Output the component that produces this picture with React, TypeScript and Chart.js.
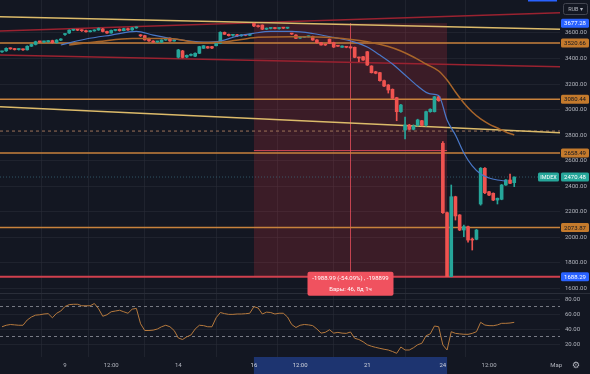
import React, { useEffect, useRef } from 'react';
import { Chart, registerables } from 'chart.js';

Chart.register(...registerables);

// ---------- DATA ----------
const opens = [
  3452, 3460, 3480, 3476, 3470, 3474, 3468, 3496, 3510, 3532,
  3530, 3532, 3540, 3524, 3544, 3588, 3600, 3622, 3624, 3622,
  3618, 3610, 3616, 3624, 3632, 3612, 3600, 3620, 3630, 3618,
  3634, 3624, 3640, 3580, 3579, 3556, 3537, 3530, 3528, 3545,
  3558, 3537, 3410, 3459, 3412, 3425, 3418, 3441, 3480, 3493,
  3493, 3500, 3519, 3605, 3590, 3582, 3584, 3578, 3584, 3582,
  3675, 3655, 3662, 3630, 3636, 3640, 3635, 3640, 3638, 3594,
  3584, 3560, 3566, 3570, 3574, 3545, 3524, 3508, 3551, 3524,
  3498, 3488, 3490, 3488, 3488, 3409, 3414, 3453, 3341, 3296,
  3289, 3226, 3192, 3158, 3093, 2983, 2839, 2878, 2845, 2878,
  2912, 2878, 2983, 2983, 3100, 2735, 2191, 1690, 2316, 2173,
  2055, 2081, 1980, 1982, 2259, 2539, 2355, 2343, 2290, 2296,
  2408, 2447, 2426,
];
const highs = [
  3458, 3484, 3484, 3480, 3478, 3476, 3500, 3514, 3536, 3536,
  3536, 3542, 3544, 3548, 3556, 3596, 3626, 3628, 3628, 3626,
  3622, 3620, 3626, 3640, 3636, 3616, 3624, 3626, 3632, 3638,
  3638, 3644, 3648, 3588, 3582, 3560, 3540, 3536, 3548, 3556,
  3562, 3548, 3472, 3464, 3428, 3436, 3445, 3496, 3502, 3496,
  3496, 3522, 3610, 3608, 3592, 3588, 3590, 3588, 3590, 3592,
  3677.28, 3662, 3664, 3640, 3642, 3644, 3642, 3645, 3645, 3598,
  3588, 3570, 3574, 3578, 3576, 3548, 3526, 3512, 3554, 3528,
  3502, 3500, 3494, 3492, 3490, 3412, 3418, 3456, 3344, 3300,
  3292, 3230, 3196, 3162, 3096, 3040, 2941, 2884, 2880, 2924,
  2916, 2988, 3006, 3104, 3104, 2748, 2195, 2408, 2320, 2176,
  2094, 2085, 1992, 2060, 2545, 2545, 2358, 2346, 2306, 2412,
  2450, 2494, 2472,
];
const lows = [
  3448, 3456, 3472, 3466, 3466, 3464, 3466, 3494, 3506, 3526,
  3524, 3528, 3520, 3520, 3540, 3582, 3596, 3618, 3618, 3612,
  3606, 3608, 3614, 3620, 3608, 3596, 3598, 3616, 3614, 3616,
  3620, 3620, 3636, 3572, 3544, 3534, 3526, 3526, 3524, 3542,
  3534, 3536, 3404, 3404, 3406, 3420, 3414, 3438, 3478, 3480,
  3478, 3498, 3516, 3588, 3576, 3576, 3572, 3574, 3578, 3580,
  3650, 3645, 3626, 3626, 3632, 3632, 3630, 3634, 3634, 3588,
  3555, 3558, 3564, 3568, 3542, 3520, 3504, 3502, 3516, 3486,
  3494, 3486, 3484, 3478, 3406, 3375, 3384, 3345, 3286, 3280,
  3222, 3180, 3129, 3084, 2912, 2978, 2769, 2840, 2840, 2870,
  2872, 2870, 2978, 2980, 3064, 2185, 1688.29, 1688.29, 2133, 2050,
  2002, 1960, 1898, 1978, 2250, 2340, 2325, 2285, 2259, 2292,
  2404, 2418, 2395,
];
const closes = [
  3454, 3480, 3476, 3470, 3474, 3468, 3496, 3510, 3532, 3530,
  3532, 3540, 3524, 3544, 3553, 3590, 3622, 3624, 3622, 3618,
  3610, 3616, 3624, 3636, 3612, 3600, 3620, 3622, 3618, 3634,
  3624, 3640, 3642, 3578, 3546, 3538, 3528, 3532, 3545, 3553,
  3537, 3545, 3467, 3408, 3425, 3432, 3441, 3493, 3500, 3482,
  3482, 3519, 3605, 3590, 3579, 3584, 3578, 3584, 3582, 3588,
  3655, 3650, 3630, 3636, 3638, 3635, 3640, 3638, 3641, 3592,
  3558, 3566, 3570, 3574, 3545, 3524, 3506, 3506, 3519, 3490,
  3496, 3498, 3488, 3484, 3409, 3404, 3388, 3349, 3289, 3284,
  3226, 3184, 3153, 3088, 2983, 3035, 2878, 2845, 2870, 2918,
  2878, 2983, 3002, 3100, 3069, 2191, 1690, 2316, 2165, 2055,
  2081, 1976, 1976, 2055, 2539, 2347, 2329, 2290, 2304, 2408,
  2447, 2421, 2470.48,
];
const rsiValues = [
  43, 45, 46, 45.5, 45, 45, 52, 56, 58.5, 59,
  60, 60.5, 55, 61, 64, 70, 72.5, 73, 73, 71,
  71, 71, 74, 67, 57, 59, 63, 64, 65, 63,
  61, 66.5, 67.5, 47, 38, 38, 38.5, 40, 43, 45,
  43, 38, 28, 26, 29.5, 32, 40, 45, 44.5, 43,
  43, 55, 62, 60.5, 59.5, 59.5, 60, 60, 60.4, 61,
  69.8, 68, 60, 62.5, 62, 60, 61, 61, 56, 46,
  42, 45, 46, 45.5, 44.5, 40, 34.5, 35.6, 39, 34.5,
  35.5, 34.5, 34.2, 36, 27.6, 26, 23, 19, 17, 15.5,
  14.2, 13, 12, 10, 7.6, 16, 12, 12, 15, 19,
  21, 31, 33.5, 44, 43, 18.7, 12, 36.4, 34.2, 33.5,
  33, 32.9, 34.2, 36.4, 48.9, 45.3, 44.5, 44.4, 45.5, 47.6,
  47.6, 48, 48.9,
];
const blueMaIdx = [14, 20, 26, 32, 36, 41, 48, 52, 56, 60, 64, 69, 74, 79, 84, 87, 90, 93, 96, 99, 102, 104, 106, 108, 110, 112, 114, 116, 118, 120];
const blueMaVal = [3506, 3553, 3584, 3612, 3584, 3553, 3529, 3537, 3576, 3598, 3612, 3612, 3596, 3565, 3529, 3490, 3427, 3357, 3271, 3184, 3122, 3110, 2918, 2800, 2659, 2557, 2494, 2463, 2447, 2439];
const orangeMaIdx = [16, 23, 31, 40, 47, 52, 57, 61, 69, 79, 87, 92, 95, 98, 101, 104, 106, 108, 110, 112, 114, 116, 118, 120, 122];
const orangeMaVal = [3506, 3533, 3557, 3557, 3525, 3527, 3549, 3566, 3571, 3563, 3532, 3494, 3459, 3412, 3357, 3302, 3231, 3137, 3051, 2980, 2926, 2886, 2855, 2824, 2800];

const timeTickIdx = [15, 26, 42, 60, 71, 87, 105, 116, 132];
const timeTickLabels = ['9', '12:00', '14', '16', '12:00', '21', '24', '12:00', 'Мар'];
const priceTicks = [1600, 1800, 2000, 2200, 2400, 2600, 2800, 3000, 3200, 3400, 3600];
const rsiTicks = [20, 40, 60, 80];
const rsiLevels = [70, 30];

const levelPrices = [3520.66, 3080.44, 2658.49, 2073.87, 1688.29];
const dashedLevelPrice = 2831;
const trendStartIdx = [-0.48, -0.48, -0.48, -0.48];
const trendStartPrice = [3728, 3616, 3427, 3022];
const trendEndIdx = [132.9, 132.9, 132.9, 132.9];
const trendEndPrice = [3629, 3759, 3336, 2818];

const rangeStartIdx = 60;
const rangeEndIdx = 106;
const rangeHigh = 3677.28;
const rangeLow = 1688.29;
const rangeText = ['-1988.99 (-54.09%) , -198899', 'Бары: 46, 8д 1ч'];
const lastPrice = 2470.48;
const symbolName = 'IMDEX';

// ---------- STYLE ----------
const BG = '#131722';
const GRID = 'rgba(42,46,57,0.55)';
const TEXT = '#b2b5be';
const UP = '#26a69a';
const DOWN = '#ef5350';
const levelColors = ['#c8823c', '#c8823c', '#c8823c', '#c8823c', '#d0404e'];
const levelTagColors = ['#c47a2c', '#c47a2c', '#c47a2c', '#c47a2c', '#2962ff'];
const trendColors = ['#dcbb6a', '#9a2230', '#9a2230', '#dcbb6a'];
const FONT = 'Roboto';
const X_MIN = -0.48;
const X_MAX = 132.9;

export default function App() {
  const ref = useRef<HTMLCanvasElement>(null);

  useEffect(() => {
    const idx = opens.map((_, i) => i);
    const colors = idx.map((i) => (closes[i] >= opens[i] ? UP : DOWN));

    const datasets: any[] = [];
    levelPrices.forEach((p, k) => {
      datasets.push({
        type: 'line', yAxisID: 'y', xAxisID: 'x', order: 8,
        data: [{ x: X_MIN, y: p }, { x: X_MAX, y: p }],
        borderColor: levelColors[k], borderWidth: k === 4 ? 2 : 1.5, pointRadius: 0,
      });
    });
    datasets.push({
      type: 'line', yAxisID: 'y', xAxisID: 'x', order: 8,
      data: [{ x: X_MIN, y: dashedLevelPrice }, { x: X_MAX, y: dashedLevelPrice }],
      borderColor: '#9c7258', borderWidth: 1, borderDash: [3, 3], pointRadius: 0,
    });
    datasets.push({
      type: 'line', yAxisID: 'y', xAxisID: 'x', order: 8,
      data: [{ x: X_MIN, y: lastPrice }, { x: X_MAX, y: lastPrice }],
      borderColor: 'rgba(60,110,130,0.7)', borderWidth: 1, borderDash: [1, 2], pointRadius: 0,
    });
    trendStartIdx.forEach((_, k) => {
      datasets.push({
        type: 'line', yAxisID: 'y', xAxisID: 'x', order: 7,
        data: [{ x: trendStartIdx[k], y: trendStartPrice[k] }, { x: trendEndIdx[k], y: trendEndPrice[k] }],
        borderColor: trendColors[k], borderWidth: 1.5, pointRadius: 0,
      });
    });
    datasets.push({
      type: 'bar', yAxisID: 'y', xAxisID: 'x', order: 4, grouped: false,
      data: idx.map((i) => ({ x: i, y: [lows[i], highs[i]] })),
      backgroundColor: colors, barThickness: 1, borderWidth: 0,
    });
    datasets.push({
      type: 'bar', yAxisID: 'y', xAxisID: 'x', order: 3, grouped: false,
      data: idx.map((i) => ({ x: i, y: [opens[i], closes[i]] })),
      backgroundColor: colors, barThickness: 3, minBarLength: 1, borderWidth: 0,
    });
    datasets.push({
      type: 'line', yAxisID: 'y', xAxisID: 'x', order: 1,
      data: orangeMaIdx.map((x, k) => ({ x, y: orangeMaVal[k] })),
      borderColor: '#a8652a', borderWidth: 1.5, pointRadius: 0, cubicInterpolationMode: 'monotone',
    });
    datasets.push({
      type: 'line', yAxisID: 'y', xAxisID: 'x', order: 1,
      data: blueMaIdx.map((x, k) => ({ x, y: blueMaVal[k] })),
      borderColor: '#4a78c8', borderWidth: 1.2, pointRadius: 0, cubicInterpolationMode: 'monotone',
    });
    rsiLevels.forEach((lv) => {
      datasets.push({
        type: 'line', yAxisID: 'yRsi', xAxisID: 'x', order: 5,
        data: [{ x: X_MIN, y: lv }, { x: X_MAX, y: lv }],
        borderColor: '#787b86', borderWidth: 1, borderDash: [3, 3], pointRadius: 0,
      });
    });
    datasets.push({
      type: 'line', yAxisID: 'yRsi', xAxisID: 'x', order: 1,
      data: idx.map((i) => ({ x: i, y: rsiValues[i] })),
      borderColor: '#b5793d', borderWidth: 1, pointRadius: 0, tension: 0,
    });

    const overlay = {
      id: 'overlay',
      beforeDraw(chart: any) {
        const { ctx, width, height, chartArea, scales } = chart;
        ctx.save();
        ctx.fillStyle = BG;
        ctx.fillRect(0, 0, width, height);
        const x0 = scales.x.getPixelForValue(rangeStartIdx);
        const x1 = scales.x.getPixelForValue(rangeEndIdx);
        ctx.fillStyle = '#1d3470';
        ctx.fillRect(x0, chartArea.bottom, x1 - x0, height - chartArea.bottom);
        ctx.restore();
      },
      beforeDatasetsDraw(chart: any) {
        const { ctx, scales } = chart;
        const x0 = scales.x.getPixelForValue(rangeStartIdx);
        const x1 = scales.x.getPixelForValue(rangeEndIdx);
        const y0 = scales.y.getPixelForValue(rangeHigh);
        const y1 = scales.y.getPixelForValue(rangeLow);
        ctx.save();
        ctx.fillStyle = 'rgba(242,54,69,0.18)';
        ctx.fillRect(x0, y0, x1 - x0, y1 - y0);
        ctx.strokeStyle = 'rgba(242,80,95,0.75)';
        ctx.lineWidth = 1;
        const xm = Math.round((x0 + x1) / 2) + 0.5;
        const ym = Math.round((y0 + y1) / 2) + 0.5;
        ctx.beginPath();
        ctx.moveTo(xm, y0); ctx.lineTo(xm, y1);
        ctx.moveTo(x0, ym); ctx.lineTo(x1, ym);
        ctx.stroke();
        ctx.restore();
      },
      afterDraw(chart: any) {
        const { ctx, width, chartArea, scales } = chart;
        ctx.save();
        ctx.strokeStyle = '#2a2e39';
        ctx.lineWidth = 1;
        ctx.beginPath();
        const sepY = Math.round(scales.y.bottom) + 0.5;
        ctx.moveTo(0, sepY); ctx.lineTo(width, sepY);
        ctx.stroke();

        const tag = (price: number, text: string, bg: string, fg: string) => {
          const y = scales.y.getPixelForValue(price);
          ctx.fillStyle = bg;
          ctx.beginPath();
          ctx.roundRect(chartArea.right + 1, y - 4.5, 28, 9, 1.5);
          ctx.fill();
          ctx.fillStyle = fg;
          ctx.font = `6px ${FONT}`;
          ctx.textAlign = 'center';
          ctx.textBaseline = 'middle';
          ctx.fillText(text, chartArea.right + 15, y + 0.5);
        };
        tag(rangeHigh, rangeHigh.toFixed(2), '#2962ff', '#ffffff');
        levelPrices.forEach((p, k) => {
          const fg = k === 4 ? '#ffffff' : '#131722';
          tag(p, p.toFixed(2), levelTagColors[k], fg);
        });
        tag(lastPrice, lastPrice.toFixed(2), UP, '#ffffff');

        const ly = scales.y.getPixelForValue(lastPrice);
        ctx.fillStyle = UP;
        ctx.beginPath();
        ctx.roundRect(chartArea.right - 22, ly - 4.5, 21, 9, 1.5);
        ctx.fill();
        ctx.fillStyle = '#ffffff';
        ctx.font = `5.5px ${FONT}`;
        ctx.textAlign = 'center';
        ctx.textBaseline = 'middle';
        ctx.fillText(symbolName, chartArea.right - 11.5, ly + 0.5);

        const x0 = scales.x.getPixelForValue(rangeStartIdx);
        const x1 = scales.x.getPixelForValue(rangeEndIdx);
        const xm = (x0 + x1) / 2;
        const yb = scales.y.getPixelForValue(rangeLow);
        ctx.fillStyle = '#f0525f';
        ctx.beginPath();
        ctx.roundRect(xm - 43, yb - 5, 86, 24, 2);
        ctx.fill();
        ctx.fillStyle = '#ffffff';
        ctx.font = `6px ${FONT}`;
        ctx.fillText(rangeText[0], xm, yb + 2);
        ctx.fillText(rangeText[1], xm, yb + 13);

        ctx.strokeStyle = '#434651';
        ctx.beginPath();
        ctx.roundRect(chartArea.right + 3.5, 3.5, 24, 11, 2);
        ctx.stroke();
        ctx.fillStyle = TEXT;
        ctx.font = `5.5px ${FONT}`;
        ctx.fillText('RUB ▾', chartArea.right + 15.5, 9.5);

        ctx.fillStyle = '#2962ff';
        ctx.fillRect(chartArea.right - 32, 0, 29, 1.5);

        ctx.fillStyle = TEXT;
        ctx.font = '9px "DejaVu Sans"';
        ctx.fillText('⚙', chartArea.right + 16, chartArea.bottom + 9);
        ctx.restore();
      },
    };

    const chart = new Chart(ref.current as HTMLCanvasElement, {
      type: 'bar',
      data: { datasets },
      options: {
        responsive: false,
        animation: false,
        events: [],
        layout: { padding: 0, autoPadding: false },
        plugins: { legend: { display: false }, tooltip: { enabled: false } },
        scales: {
          x: {
            type: 'linear', min: X_MIN, max: X_MAX, offset: false,
            afterFit: (s: any) => { s.height = 17; s.paddingLeft = 0; s.paddingRight = 0; },
            afterBuildTicks: (s: any) => { s.ticks = timeTickIdx.map((v) => ({ value: v })); },
            ticks: {
              autoSkip: false, maxRotation: 0, padding: 5,
              font: { size: 6, family: FONT },
              color: (c: any) => (c.tick && c.tick.value >= rangeStartIdx && c.tick.value <= rangeEndIdx ? '#d1d4dc' : TEXT),
              callback: (_v: any, i: number) => timeTickLabels[i],
            },
            grid: {
              drawTicks: false,
              color: (c: any) => (c.tick && c.tick.value === 132 ? 'rgba(0,0,0,0)' : GRID),
            },
            border: { display: false },
          },
          y: {
            type: 'linear', position: 'right', stack: 'panes', stackWeight: 4.58,
            min: 1560.8, max: 3858.8,
            afterFit: (s: any) => { s.width = 30; s.paddingTop = 0; s.paddingBottom = 0; },
            afterBuildTicks: (s: any) => { s.ticks = priceTicks.map((v) => ({ value: v })); },
            ticks: {
              autoSkip: false, padding: 5, color: TEXT,
              font: { size: 6, family: FONT },
              callback: (v: any) => Number(v).toFixed(2),
            },
            grid: { drawTicks: false, color: GRID },
            border: { display: false },
          },
          yRsi: {
            type: 'linear', position: 'right', stack: 'panes', stackWeight: 1,
            min: 2.67, max: 88,
            afterFit: (s: any) => { s.width = 30; s.paddingTop = 0; s.paddingBottom = 0; },
            afterBuildTicks: (s: any) => { s.ticks = rsiTicks.map((v) => ({ value: v })); },
            ticks: {
              autoSkip: false, padding: 5, color: TEXT,
              font: { size: 6, family: FONT },
              callback: (v: any) => Number(v).toFixed(2),
            },
            grid: { drawTicks: false, color: GRID },
            border: { display: false },
          },
        },
      } as any,
      plugins: [overlay],
    });
    return () => chart.destroy();
  }, []);

  return (
    <div style={{ position: 'fixed', left: 0, top: 0, width: 590, height: 374, background: BG }}>
      <canvas ref={ref} width={590} height={374} style={{ display: 'block', width: 590, height: 374 }} />
    </div>
  );
}
